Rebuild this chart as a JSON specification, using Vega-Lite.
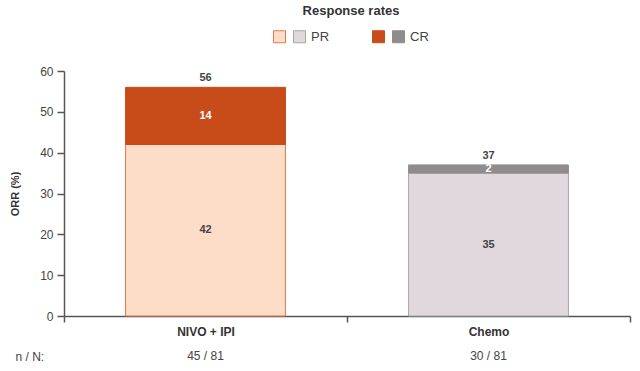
{
  "$schema": "https://vega.github.io/schema/vega-lite/v6.json",
  "width": 566,
  "height": 245,
  "autosize": "none",
  "padding": {"left": 64, "top": 71, "right": 10, "bottom": 55},
  "config": {
    "font": "Liberation Sans",
    "view": {"stroke": null},
    "axis": {"labelColor": "#444", "titleColor": "#333", "domainColor": "#555", "tickColor": "#555"}
  },
  "data": {
    "values": [
      {"arm": "NIVO + IPI", "resp": "PR", "key": "NIVO PR", "value": 42},
      {"arm": "NIVO + IPI", "resp": "CR", "key": "NIVO CR", "value": 14},
      {"arm": "Chemo", "resp": "PR", "key": "Chemo PR", "value": 35},
      {"arm": "Chemo", "resp": "CR", "key": "Chemo CR", "value": 2}
    ]
  },
  "layer": [
    {
      "mark": {"type": "bar", "strokeWidth": 1, "width": {"band": 0.565}},
      "encoding": {
        "x": {
          "field": "arm", "type": "nominal", "sort": ["NIVO + IPI", "Chemo"],
          "scale": {"paddingInner": 0, "paddingOuter": 0},
          "axis": {
            "title": null, "labelAngle": 0, "tickBand": "extent",
            "labelFontWeight": "bold", "labelFontSize": 12, "labelColor": "#333",
            "domainWidth": 1.5, "tickWidth": 1.5, "tickSize": 6, "labelPadding": 4
          }
        },
        "y": {
          "field": "value", "type": "quantitative", "stack": "zero",
          "scale": {"domain": [0, 60]},
          "axis": {
            "title": "ORR (%)", "values": [0, 10, 20, 30, 40, 50, 60], "grid": false,
            "labelFontSize": 12, "titleFontSize": 11, "titleFontWeight": "bold",
            "titlePadding": 19, "domainWidth": 1.5, "tickWidth": 1.5, "tickSize": 7, "labelPadding": 4
          }
        },
        "color": {
          "field": "key", "type": "nominal",
          "scale": {"domain": ["NIVO PR", "Chemo PR", "gap1", "gap2", "NIVO CR", "Chemo CR"], "range": ["#FDDCC8", "#E0D8DC", "transparent", "transparent", "#C84B1A", "#8F8C8C"]},
          "legend": {
            "orient": "none", "legendX": 209, "legendY": -66, "direction": "horizontal",
            "title": "Response rates", "titleFontSize": 13, "titleFontWeight": "bold", "titleColor": "#333",
            "titleAnchor": "middle", "titlePadding": 12,
            "symbolType": "square", "symbolSize": 144, "symbolStrokeWidth": 1,
            "labelFontSize": 13, "labelColor": "#444", "labelOffset": 5, "columnPadding": 0,
            "labelExpr": "datum.label == 'Chemo PR' ? 'PR' : (datum.label == 'Chemo CR' ? 'CR' : '')"
          }
        },
        "stroke": {
          "field": "key", "type": "nominal",
          "scale": {"domain": ["NIVO PR", "Chemo PR", "gap1", "gap2", "NIVO CR", "Chemo CR"], "range": ["#DC7B4B", "#A9A5A7", "transparent", "transparent", "#C84B1A", "#8F8C8C"]},
          "legend": {
            "orient": "none", "legendX": 209, "legendY": -66, "direction": "horizontal",
            "title": "Response rates", "titleFontSize": 13, "titleFontWeight": "bold", "titleColor": "#333",
            "titleAnchor": "middle", "titlePadding": 12,
            "symbolType": "square", "symbolSize": 144, "symbolStrokeWidth": 1,
            "labelFontSize": 13, "labelColor": "#444", "labelOffset": 5, "columnPadding": 0,
            "labelExpr": "datum.label == 'Chemo PR' ? 'PR' : (datum.label == 'Chemo CR' ? 'CR' : '')"
          }
        },
        "order": {"field": "resp", "sort": "descending"}
      }
    },
    {
      "transform": [
        {"stack": "value", "groupby": ["arm"], "sort": [{"field": "resp", "order": "descending"}], "as": ["v0", "v1"]},
        {"calculate": "(datum.v0 + datum.v1) / 2", "as": "mid"}
      ],
      "mark": {"type": "text", "fontWeight": "bold", "fontSize": 11, "baseline": "middle"},
      "encoding": {
        "x": {"field": "arm", "type": "nominal", "sort": ["NIVO + IPI", "Chemo"], "axis": null},
        "y": {"field": "mid", "type": "quantitative"},
        "text": {"field": "value", "type": "quantitative"},
        "color": {"condition": {"test": "datum.resp == 'CR'", "value": "#FFFFFF"}, "value": "#444444"}
      }
    },
    {
      "transform": [
        {"aggregate": [{"op": "sum", "field": "value", "as": "total"}], "groupby": ["arm"]}
      ],
      "mark": {"type": "text", "fontWeight": "bold", "fontSize": 11, "baseline": "bottom", "dy": -4, "color": "#444"},
      "encoding": {
        "x": {
          "field": "arm", "type": "nominal", "sort": ["NIVO + IPI", "Chemo"],
          "axis": {
            "orient": "bottom", "domain": false, "ticks": false, "labelAngle": 0,
            "labelFontSize": 12, "labelColor": "#444", "labelPadding": 34,
            "labelExpr": "datum.label == 'NIVO + IPI' ? '45 / 81' : '30 / 81'",
            "title": "n / N:", "titleFontSize": 12, "titleFontWeight": "normal", "titleColor": "#444",
            "titleX": -49, "titleY": 40, "titleAlign": "left", "titleBaseline": "middle", "titleAnchor": "start"
          }
        },
        "y": {"field": "total", "type": "quantitative"},
        "text": {"field": "total", "type": "quantitative"}
      }
    }
  ],
  "resolve": {"axis": {"x": "independent"}}
}
